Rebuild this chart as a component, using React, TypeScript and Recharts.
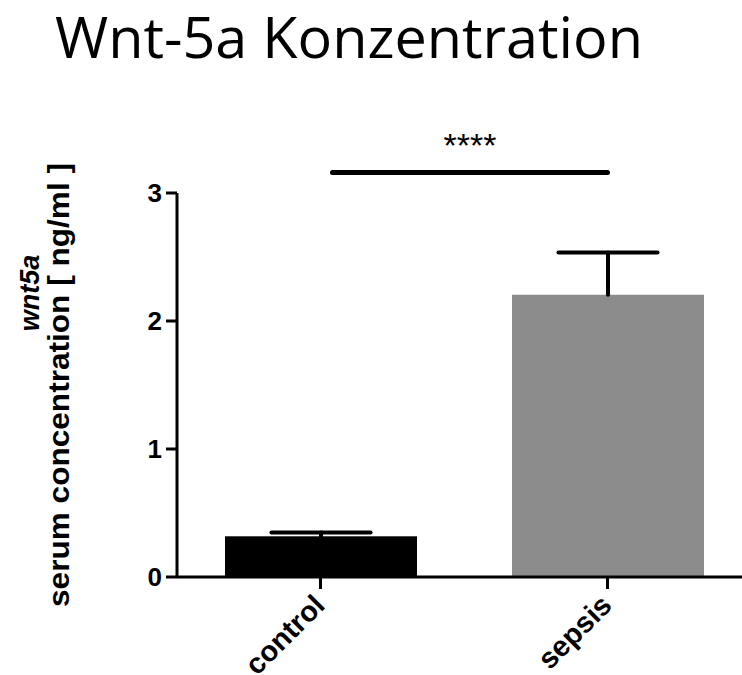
import React from 'react';
import { BarChart, Bar, XAxis, YAxis, ReferenceLine } from 'recharts';

const categories = ['control', 'sepsis'];
const means = [0.318, 2.205];
const sems = [0.03, 0.33];
const yTicks = [0, 1, 2, 3];
const barColors = ['#000000', '#8c8c8c'];
const significance = { label: '****', y: 3.16 };
const title = 'Wnt-5a Konzentration';
const yLabelTop = 'wnt5a';
const yLabelBottom = 'serum concentration [ ng/ml ]';

const data = categories.map((c, i) => ({ name: c, mean: means[i], err: sems[i], color: barColors[i] }));

const MeanBar = (props: any) => {
  const { x, y, width, height, payload } = props;
  return <rect x={x} y={y} width={width} height={height} fill={payload.color} />;
};

const ErrShape = (props: any) => {
  const { x, y, width, height } = props;
  const cx = x + width / 2;
  const half = width * 0.258;
  return (
    <g>
      <line x1={cx} y1={y + height} x2={cx} y2={y} stroke="#000" strokeWidth={4} strokeLinecap="round" />
      <line x1={cx - half} y1={y} x2={cx + half} y2={y} stroke="#000" strokeWidth={4} strokeLinecap="round" />
    </g>
  );
};

const XTick = (props: any) => {
  const { x, y, payload } = props;
  const tx = x + 6;
  const ty = y + 16;
  return (
    <text
      x={tx}
      y={ty}
      textAnchor="end"
      transform={`rotate(-45, ${tx}, ${ty})`}
      fontFamily="'Liberation Sans', Arial, sans-serif"
      fontWeight="bold"
      fontSize={29}
      fill="#000"
    >
      {payload.value}
    </text>
  );
};

const SigShape = (props: any) => {
  const { x1, y1, x2 } = props;
  if (x1 == null) return null;
  const sx = x1 + 12;
  return (
    <g>
      <line x1={sx} y1={y1} x2={x2} y2={y1} stroke="#000" strokeWidth={5} strokeLinecap="round" />
      <text
        x={(sx + x2) / 2}
        y={y1 - 16}
        textAnchor="middle"
        fontFamily="'Liberation Sans', Arial, sans-serif"
        fontSize={34}
        fill="#000"
      >
        {significance.label}
      </text>
    </g>
  );
};

export default function App() {
  return (
    <div style={{ position: 'absolute', left: 0, top: 0, width: 742, height: 675, overflow: 'hidden', background: '#fff' }}>
      <svg width={742} height={675} style={{ position: 'absolute', left: 0, top: 0 }}>
        <text
          x={55}
          y={58}
          fontFamily="'Open Sans', sans-serif"
          fontSize={57}
          textLength={588}
          lengthAdjust="spacingAndGlyphs"
          fill="#000"
        >
          {title}
        </text>
        <text
          x={39}
          y={293}
          transform="rotate(-90, 39, 293)"
          textAnchor="middle"
          fontFamily="'Liberation Sans', Arial, sans-serif"
          fontWeight="bold"
          fontStyle="italic"
          fontSize={27}
          fill="#000"
        >
          {yLabelTop}
        </text>
        <text
          x={69}
          y={385}
          transform="rotate(-90, 69, 385)"
          textAnchor="middle"
          fontFamily="'Liberation Sans', Arial, sans-serif"
          fontWeight="bold"
          fontSize={30}
          textLength={444}
          lengthAdjust="spacingAndGlyphs"
          fill="#000"
        >
          {yLabelBottom}
        </text>
      </svg>
      <div style={{ position: 'absolute', left: 0, top: 0 }}>
        <BarChart width={760} height={675} data={data} margin={{ top: 193, right: 9, bottom: 0, left: 0 }} barSize={192}>
          <XAxis
            dataKey="name"
            height={98}
            axisLine={{ stroke: '#000', strokeWidth: 3 }}
            tickLine={{ stroke: '#000', strokeWidth: 3 }}
            tickSize={12}
            tick={<XTick />}
            interval={0}
          />
          <YAxis
            width={177}
            domain={[0, 3]}
            ticks={yTicks}
            allowDataOverflow
            axisLine={{ stroke: '#000', strokeWidth: 3 }}
            tickLine={{ stroke: '#000', strokeWidth: 3 }}
            tickSize={11}
            tickMargin={4}
            tick={{ fill: '#000', fontSize: 26, fontWeight: 'bold', fontFamily: "'Liberation Sans', Arial, sans-serif" }}
          />
          <Bar dataKey="mean" stackId="a" shape={<MeanBar />} isAnimationActive={false} />
          <Bar dataKey="err" stackId="a" shape={<ErrShape />} isAnimationActive={false} />
          <ReferenceLine
            segment={[{ x: categories[0], y: significance.y }, { x: categories[1], y: significance.y }]}
            ifOverflow="visible"
            shape={<SigShape />}
          />
        </BarChart>
      </div>
    </div>
  );
}
